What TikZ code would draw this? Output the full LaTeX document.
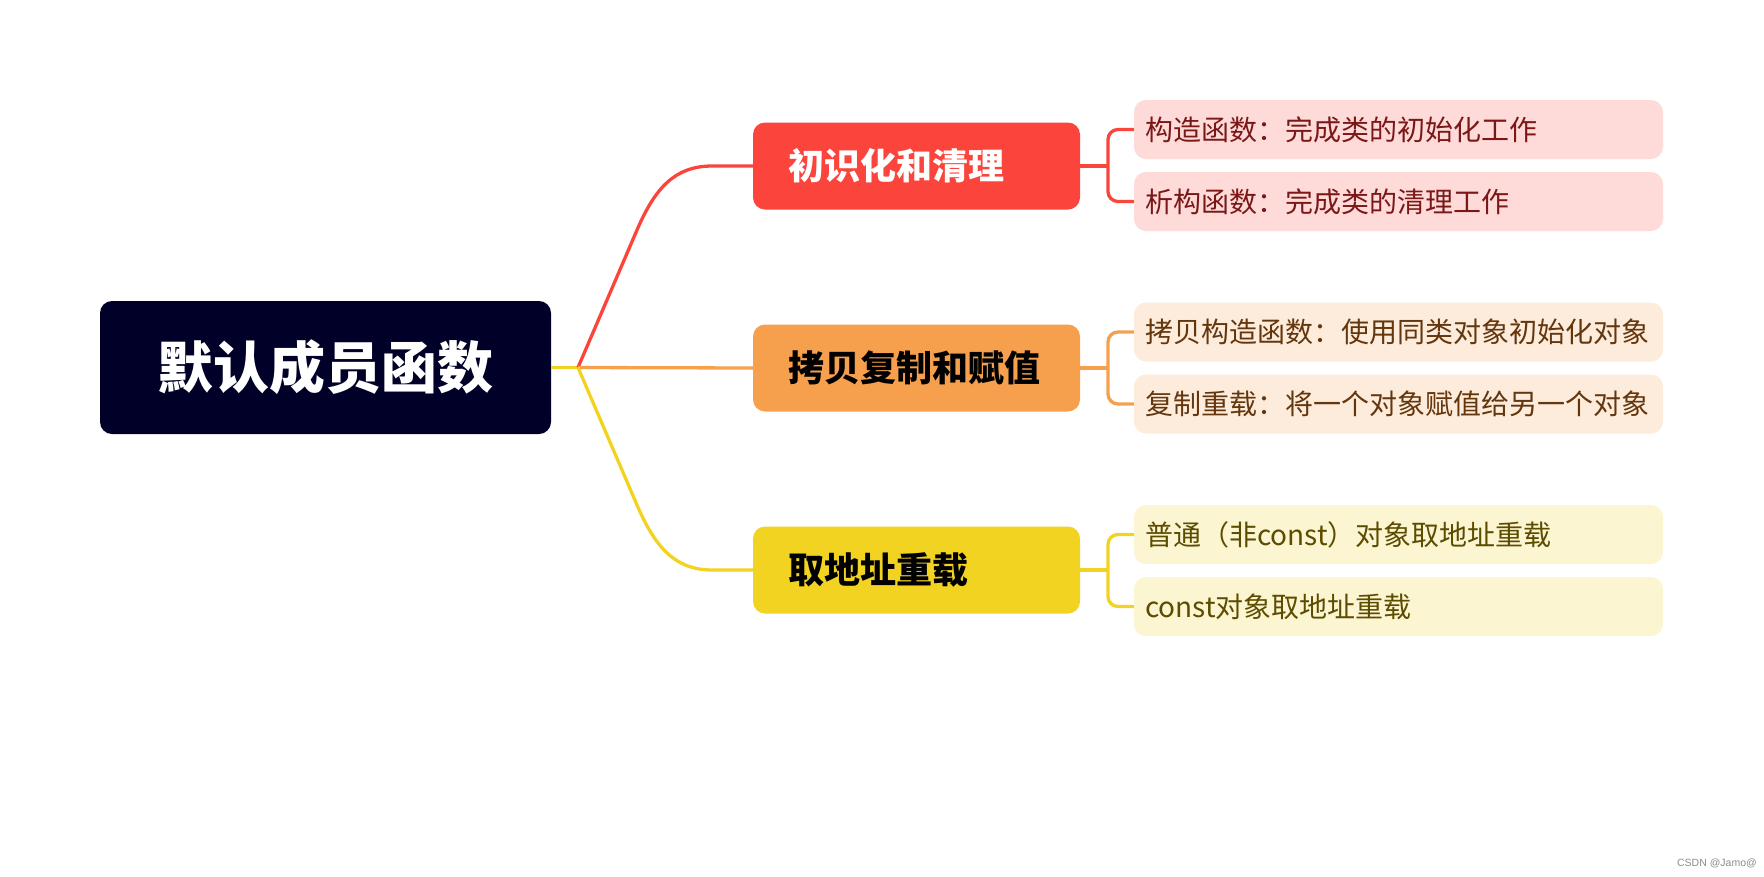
\documentclass[tikz,border=0pt]{standalone}
\usepackage{fontspec}
\setmainfont{Noto Sans CJK SC}
\newfontfamily\cjk{Noto Sans CJK SC}
\newfontfamily\cjkheavy{Noto Sans CJK SC Black}
\newfontfamily\wmfont{Liberation Sans}
\definecolor{rootfill}{RGB}{0,0,41}
\definecolor{cred}{RGB}{250,68,60}
\definecolor{corange}{RGB}{246,160,77}
\definecolor{cyellow}{RGB}{242,211,33}
\definecolor{lred}{RGB}{254,218,216}
\definecolor{lorange}{RGB}{253,236,219}
\definecolor{lyellow}{RGB}{252,245,210}
\definecolor{tred}{RGB}{122,24,24}
\definecolor{torange}{RGB}{100,54,14}
\definecolor{tyellow}{RGB}{92,76,0}
\begin{document}
\begin{tikzpicture}[x=1pt,y=-1pt,
  rootbox/.style={fill=rootfill,rounded corners=12pt,minimum width=451pt,minimum height=133pt,inner sep=0pt,text=white,font=\cjkheavy\fontsize{56}{62}\selectfont},
  branchbox/.style={rounded corners=12pt,text width=257pt,inner xsep=35pt,inner ysep=0pt,minimum height=87pt,align=left,font=\cjk\bfseries\fontsize{36}{42}\selectfont},
  leafbox/.style={rounded corners=12pt,text width=507pt,inner xsep=11pt,inner ysep=0pt,minimum height=59pt,align=left,font=\cjk\fontsize{28}{32}\selectfont},
  conn/.style={line width=3.3pt},
  bracket/.style={line width=3.3pt,rounded corners=10pt}]
\useasboundingbox (0,0) rectangle (1764,876);
% root
\node[rootbox] (root) at (325.5,367.5) {默认成员函数};
% branches
\node[branchbox,fill=cred,text=white] (b1) at (916.5,166) {初识化和清理};
\node[branchbox,fill=corange,text=black] (b2) at (916.5,368) {拷贝复制和赋值};
\node[branchbox,fill=cyellow,text=black] (b3) at (916.5,570) {取地址重载};
% leaves
\node[leafbox,fill=lred,text=tred] (l1) at (1398.5,129.5) {构造函数：完成类的初始化工作};
\node[leafbox,fill=lred,text=tred] (l2) at (1398.5,201.5) {析构函数：完成类的清理工作};
\node[leafbox,fill=lorange,text=torange] (l3) at (1398.5,332) {拷贝构造函数：使用同类对象初始化对象};
\node[leafbox,fill=lorange,text=torange] (l4) at (1398.5,404) {复制重载：将一个对象赋值给另一个对象};
\node[leafbox,fill=lyellow,text=tyellow] (l5) at (1398.5,534.5) {普通（非const）对象取地址重载};
\node[leafbox,fill=lyellow,text=tyellow] (l6) at (1398.5,606.5) {const对象取地址重载};
% junction
\coordinate (J) at (578,367.5);
\coordinate (r1) at (637,230);
\coordinate (r2) at (712,166);
\coordinate (y1) at (637,505);
\coordinate (y2) at (712,570);
\draw[conn,cyellow] (root.east) -- (J);
\draw[conn,cred] (J) -- (r1) .. controls (655,188) and (675,166) .. (r2) -- (b1.west);
\draw[conn,corange] (J) -- (b2.west);
\draw[conn,cyellow] (J) -- (y1) .. controls (655,547) and (675,570) .. (y2) -- (b3.west);
% brackets
\coordinate (k1) at (1108,166);
\coordinate (k2) at (1108,368);
\coordinate (k3) at (1108,570);
\draw[conn,cred] (b1.east) -- (k1);
\draw[bracket,cred] (l1.west) -- (l1.west -| k1) -- (l2.west -| k1) -- (l2.west);
\draw[conn,corange] (b2.east) -- (k2);
\draw[bracket,corange] (l3.west) -- (l3.west -| k2) -- (l4.west -| k2) -- (l4.west);
\draw[conn,cyellow] (b3.east) -- (k3);
\draw[bracket,cyellow] (l5.west) -- (l5.west -| k3) -- (l6.west -| k3) -- (l6.west);
% watermark
\node[anchor=east,text=black!45,font=\wmfont\fontsize{10.5}{12}\selectfont,inner sep=0pt] (wm) at (1757,863) {CSDN @Jamo@};
\end{tikzpicture}
\end{document}
